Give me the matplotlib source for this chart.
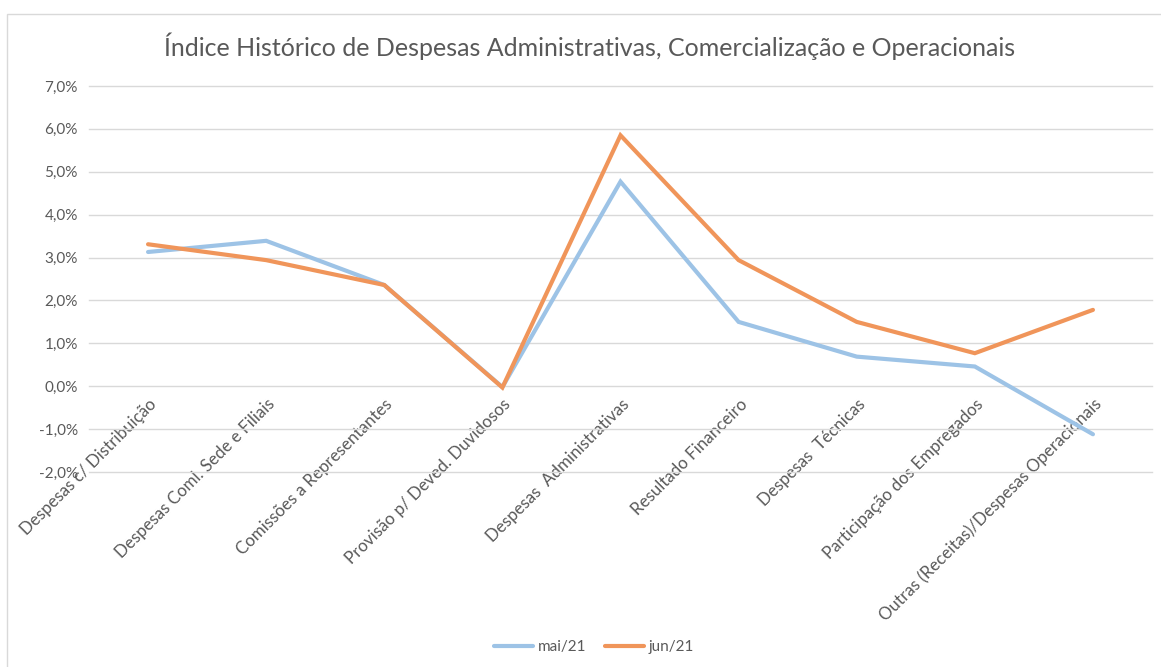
import matplotlib
matplotlib.use("Agg")
import matplotlib.pyplot as plt
from matplotlib.patches import Rectangle
from matplotlib.ticker import FuncFormatter, MultipleLocator
from matplotlib.transforms import ScaledTranslation

categories = [
    "Despesas c/ Distribuição",
    "Despesas Coml. Sede e Filiais",
    "Comissões a Representantes",
    "Provisão p/ Deved. Duvidosos",
    "Despesas  Administrativas",
    "Resultado Financeiro",
    "Despesas  Técnicas",
    "Participação dos Empregados",
    "Outras (Receitas)/Despesas Operacionais",
]
mai21 = [3.13, 3.39, 2.36, -0.02, 4.77, 1.50, 0.69, 0.46, -1.12]
jun21 = [3.31, 2.94, 2.36, -0.03, 5.85, 2.94, 1.50, 0.77, 1.78]
series_names = ["mai/21", "jun/21"]

plt.rcParams['font.family'] = ['Lato', 'DejaVu Sans']
W, H = 1161, 667
fig = plt.figure(figsize=(W / 100, H / 100), dpi=100)
fig.patch.set_facecolor("white")

# chart border (top and left visible)
fig.patches.append(Rectangle((7 / W, -0.05), 1.2, (H - 14) / H + 0.05, transform=fig.transFigure,
                             fill=False, edgecolor="#d9d9d9", linewidth=1.0, zorder=0))

left, right, top, bottom = 89, 1152, 86, 472
ax = fig.add_axes([left / W, 1 - bottom / H, (right - left) / W, (bottom - top) / H])

gray = "#595959"
x = list(range(len(categories)))
ax.plot(x, mai21, color="#9DC3E6", lw=3.0, solid_capstyle="round", solid_joinstyle="miter", label=series_names[0], zorder=3)
ax.plot(x, jun21, color="#F0955A", lw=3.0, solid_capstyle="round", solid_joinstyle="miter", label=series_names[1], zorder=4)

ax.set_xlim(-0.5, len(categories) - 0.5)
ax.set_ylim(-2, 7)
ax.yaxis.set_major_locator(MultipleLocator(1))
ax.yaxis.set_major_formatter(FuncFormatter(lambda v, p: f"{v:.1f}%".replace(".", ",")))
ax.grid(axis="y", color="#d9d9d9", lw=1.0)
ax.set_axisbelow(True)
for gl in ax.get_ygridlines():
    gl.set_clip_on(False)
for s in ax.spines.values():
    s.set_visible(False)
ax.spines['bottom'].set_position(('data', 0))
ax.set_xticks(x)
ax.set_xticklabels(categories, rotation=45, ha="right", va="center", rotation_mode="anchor")
ax.tick_params(axis="x", length=0, pad=11, labelsize=12.2, labelcolor=gray)
ax.tick_params(axis="y", length=0, pad=8, labelsize=11, labelcolor=gray)
shift = ScaledTranslation(6 / 100, 0, fig.dpi_scale_trans)
for lbl in ax.get_xticklabels():
    lbl.set_transform(lbl.get_transform() + shift)

fig.text(590 / W, 1 - 46 / H, "Índice Histórico de Despesas Administrativas, Comercialização e Operacionais",
         ha="center", va="center", fontsize=18, color=gray)

leg = fig.legend(loc="center", bbox_to_anchor=(594 / W, 1 - 647 / H), ncol=2, frameon=False,
                 fontsize=11, labelcolor=gray, handlelength=2.6, handletextpad=0.3, columnspacing=1.2)
for h in leg.get_lines():
    h.set_linewidth(3.0)

fig.savefig("out.png", dpi=100, facecolor="white")
